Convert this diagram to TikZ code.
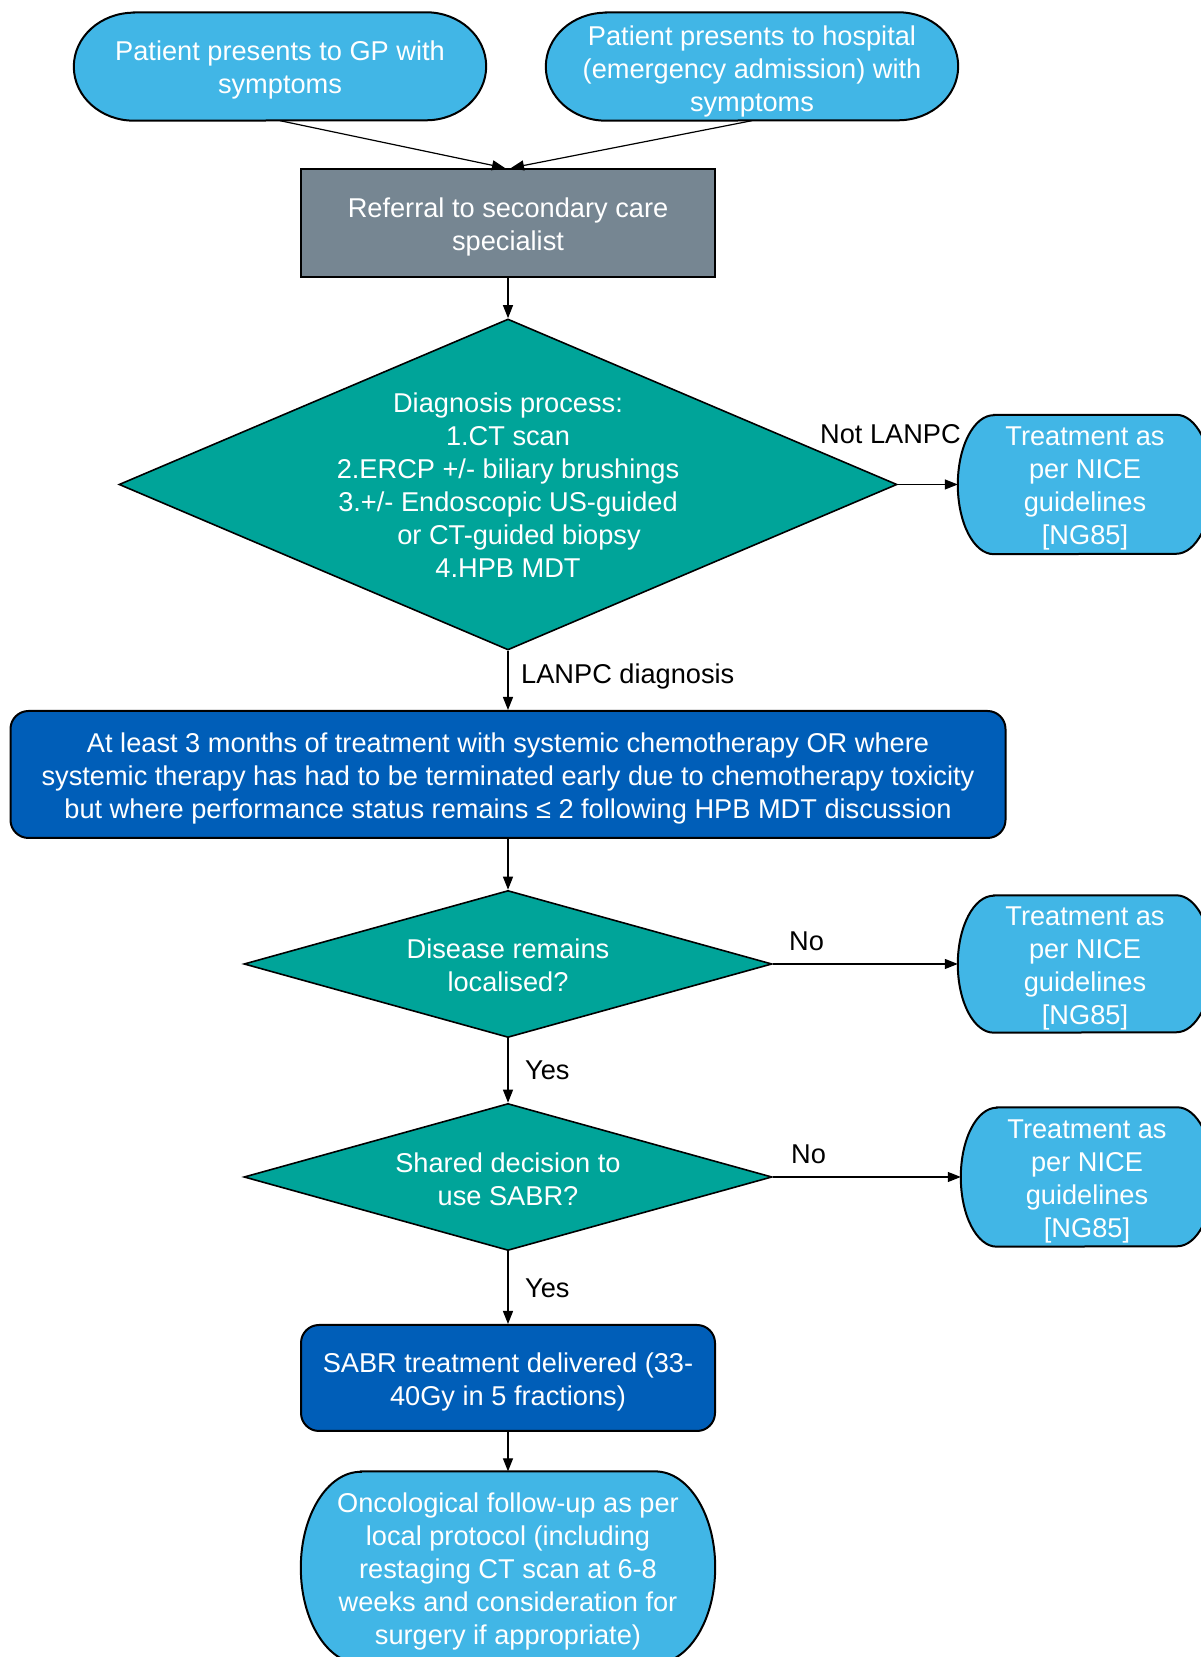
\documentclass[tikz,border=0pt]{standalone}
\usepackage{fontspec}
\setmainfont{Liberation Sans}
\usetikzlibrary{shapes.geometric,arrows.meta,backgrounds}
\definecolor{nhslight}{HTML}{41B6E6}
\definecolor{nhsgrey}{HTML}{768692}
\definecolor{nhsteal}{HTML}{00A499}
\definecolor{nhsdark}{HTML}{005EB8}
\tikzset{
  every node/.style={font=\fontsize{27.2pt}{33pt}\selectfont},
  termnode/.style={rectangle, inner sep=0pt},
  termfill/.style={draw=black, line width=2pt, fill=nhslight},
  greybox/.style={rectangle, draw=black, line width=2pt, fill=nhsgrey, inner sep=0pt},
  darkbox/.style={rectangle, rounded corners=18pt, draw=black, line width=2pt, fill=nhsdark, inner sep=0pt},
  decision/.style={diamond, draw=black, line width=1.6pt, fill=nhsteal, inner sep=0pt},
  intext/.style={inner sep=0pt, align=center, text=white},
  lbl/.style={inner sep=0pt, text=black},
  conn/.style={line width=1.2pt, -{Triangle[length=13pt,width=10pt]}}
}
% terminator outline behind a named node: name, x radius, y radius
\newcommand{\termbg}[3]{%
  \begin{pgfonlayer}{background}
    \filldraw[termfill] ([xshift=#2pt]#1.north west) -- ([xshift=-#2pt]#1.north east)
      arc[start angle=90, end angle=-90, x radius=#2pt, y radius=#3pt]
      -- ([xshift=#2pt]#1.south west)
      arc[start angle=270, end angle=90, x radius=#2pt, y radius=#3pt] -- cycle;
  \end{pgfonlayer}}
\begin{document}
\begin{tikzpicture}[x=1pt,y=1pt]
\useasboundingbox (0,0) rectangle (1200,1657);
\clip (0,0) rectangle (1200,1657);

% top terminators
\node[termnode, minimum width=412pt, minimum height=108pt] (gp) at (280,1590.5) {};
\termbg{gp}{60}{54}
\node[intext] (gpt) at ([yshift=-3.5pt]gp.center) {Patient presents to GP with\\symptoms};
\node[termnode, minimum width=412pt, minimum height=108pt] (hosp) at (752,1590.5) {};
\termbg{hosp}{60}{54}
\node[intext] (hospt) at ([yshift=-4.5pt]hosp.center) {Patient presents to hospital\\(emergency admission) with\\symptoms};

% referral
\node[greybox, minimum width=414pt, minimum height=108pt] (ref) at (508,1434) {};
\node[intext] (reft) at ([yshift=-3.5pt]ref.center) {Referral to secondary care\\specialist};

% diagnosis diamond
\node[decision, minimum width=778pt, minimum height=331pt] (d1) at (508,1172.5) {};
\node[intext] (d1t) at ([yshift=-1pt]d1.center) {Diagnosis process:\\1.CT scan\\2.ERCP +/- biliary brushings\\3.+/- Endoscopic US-guided\\\hspace*{22pt}or CT-guided biopsy\\4.HPB MDT};

\node[termnode, minimum width=254pt, minimum height=139pt] (t1) at (1085,1172.5) {};
\termbg{t1}{36}{69.5}
\node[intext] (t1t) at ([yshift=-4pt]t1.center) {Treatment as\\per NICE\\guidelines\\{[NG85]}};

% chemo box
\node[darkbox, minimum width=995pt, minimum height=127pt] (chemo) at (508,882.5) {};
\node[intext] (chemot) at ([yshift=-4pt]chemo.center) {At least 3 months of treatment with systemic chemotherapy OR where\\systemic therapy has had to be terminated early due to chemotherapy toxicity\\but where performance status remains ≤ 2 following HPB MDT discussion};

% localised diamond
\node[decision, minimum width=528pt, minimum height=147pt] (d2) at (508,693) {};
\node[intext] (d2t) at ([yshift=-1.5pt]d2.center) {Disease remains\\localised?};
\node[termnode, minimum width=254pt, minimum height=137pt] (t2) at (1085,693) {};
\termbg{t2}{36}{68.5}
\node[intext] (t2t) at ([yshift=-4.5pt]t2.center) {Treatment as\\per NICE\\guidelines\\{[NG85]}};

% SABR decision
\node[decision, minimum width=528pt, minimum height=147pt] (d3) at (508,480) {};
\node[intext] (d3t) at ([yshift=-2pt]d3.center) {Shared decision to\\use SABR?};
\node[termnode, minimum width=252pt, minimum height=139pt] (t3) at (1087,480) {};
\termbg{t3}{36}{69.5}
\node[intext] (t3t) at ([yshift=-4pt]t3.center) {Treatment as\\per NICE\\guidelines\\{[NG85]}};

% SABR treatment
\node[darkbox, minimum width=414pt, minimum height=106pt] (sabr) at (508,279) {};
\node[intext] (sabrt) at ([yshift=-4pt]sabr.center) {SABR treatment delivered (33-\\40Gy in 5 fractions)};

% follow-up
\node[termnode, minimum width=414pt, minimum height=192pt] (fu) at (508,89.4) {};
\termbg{fu}{60}{96}
\node[intext] (fut) at ([yshift=-4pt]fu.center) {Oncological follow-up as per\\local protocol (including\\restaging CT scan at 6-8\\weeks and consideration for\\surgery if appropriate)};

% labels
\node[lbl, anchor=base east] (lnot) at (961,1213) {Not LANPC};
\node[lbl, anchor=base west] (llanpc) at (521,973) {LANPC diagnosis};
\node[lbl, anchor=base west] (lno1) at (789,706) {No};
\node[lbl, anchor=base west] (lyes1) at (525,577) {Yes};
\node[lbl, anchor=base west] (lno2) at (791,493) {No};
\node[lbl, anchor=base west] (lyes2) at (525,359) {Yes};

% connectors
\draw[conn] (gp.south) -- ([xshift=-3pt]ref.north);
\draw[conn] (hosp.south) -- ([xshift=3pt]ref.north);
\draw[conn] (ref.south) -- (d1.north);
\draw[conn] (d1.east) -- (t1.west);
\draw[conn] (d1.south) -- (chemo.north);
\draw[conn] (chemo.south) -- (d2.north);
\draw[conn] (d2.east) -- (t2.west);
\draw[conn] (d2.south) -- (d3.north);
\draw[conn] (d3.east) -- (t3.west);
\draw[conn] (d3.south) -- (sabr.north);
\draw[conn] (sabr.south) -- (fu.north);
\end{tikzpicture}
\end{document}
